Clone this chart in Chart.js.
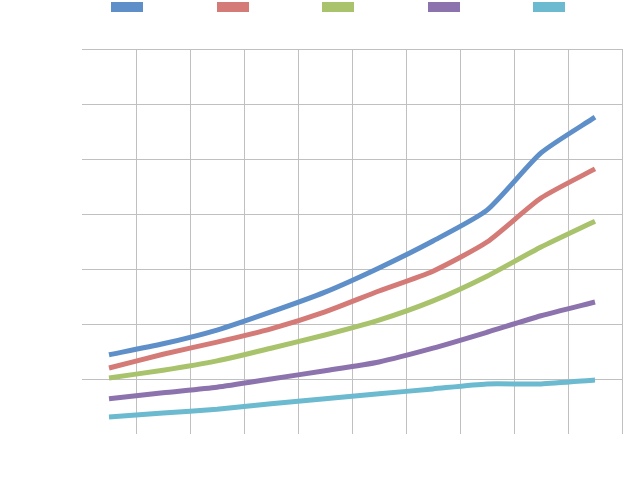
<!DOCTYPE html>
<html>
<head>
<meta charset="utf-8">
<script src="https://cdn.jsdelivr.net/npm/chart.js@4"></script>
<style>
  html, body { margin: 0; padding: 0; background: #fff; }
  #wrap { width: 632px; height: 499px; }
</style>
</head>
<body>
<div id="wrap"><canvas id="chart" width="632" height="499"></canvas></div>
<script>
// categories (labels are not shown in the picture)
const categories = ['1', '2', '3', '4', '5', '6', '7', '8', '9', '10'];

// series values
const seriesBlue   = [1.44, 1.64, 1.89, 2.22, 2.58, 3.02, 3.51, 4.07, 5.11, 5.76];
const seriesRed    = [1.20, 1.45, 1.67, 1.91, 2.22, 2.60, 2.96, 3.49, 4.29, 4.82];
const seriesGreen  = [1.02, 1.16, 1.33, 1.56, 1.80, 2.07, 2.42, 2.87, 3.40, 3.87];
const seriesPurple = [0.64, 0.75, 0.85, 1.00, 1.15, 1.31, 1.56, 1.85, 2.15, 2.40];
const seriesCyan   = [0.31, 0.38, 0.45, 0.55, 0.64, 0.73, 0.82, 0.91, 0.91, 0.98];

const yMin = 0;
const yMax = 7;
const yStep = 1;

const colors = ['#5f8fc9', '#d47b78', '#a8c36b', '#8c73ad', '#6bbacf'];
const gridColor = '#c0c0c0';

// legend: only the coloured swatches are visible
const swatchLegend = {
  id: 'swatchLegend',
  afterDraw(chart) {
    const ctx = chart.ctx;
    const sets = chart.data.datasets;
    const step = 105.5, w = 32, h = 10, top = 2;
    const mid = chart.width / 2 + 22;
    ctx.save();
    sets.forEach((ds, i) => {
      const cx = mid + (i - (sets.length - 1) / 2) * step;
      ctx.fillStyle = ds.borderColor;
      ctx.fillRect(Math.round(cx - w / 2), top, w, h);
    });
    ctx.restore();
  }
};

function line(data, color) {
  return {
    data: data,
    borderColor: color,
    backgroundColor: color,
    borderWidth: 5,
    borderCapStyle: 'butt',
    borderJoinStyle: 'round',
    pointRadius: 0,
    tension: 0.2,
    fill: false
  };
}

new Chart(document.getElementById('chart').getContext('2d'), {
  type: 'line',
  data: {
    labels: categories,
    datasets: [
      line(seriesBlue, colors[0]),
      line(seriesRed, colors[1]),
      line(seriesGreen, colors[2]),
      line(seriesPurple, colors[3]),
      line(seriesCyan, colors[4])
    ]
  },
  options: {
    responsive: false,
    animation: false,
    layout: { padding: { left: 82, right: 10, top: 49, bottom: 65 } },
    plugins: {
      legend: { display: false },
      tooltip: { enabled: false }
    },
    scales: {
      x: {
        offset: true,
        border: { display: false },
        grid: {
          offset: true,
          drawTicks: false,
          color: (c) => (c.index === 0 ? 'rgba(0,0,0,0)' : gridColor),
          lineWidth: 1
        },
        ticks: { display: false }
      },
      y: {
        min: yMin,
        max: yMax,
        border: { display: false },
        grid: {
          drawTicks: false,
          color: (c) => (c.tick && c.tick.value === yMin ? 'rgba(0,0,0,0)' : gridColor),
          lineWidth: 1
        },
        ticks: { display: false, stepSize: yStep }
      }
    }
  },
  plugins: [swatchLegend]
});
</script>
</body>
</html>
